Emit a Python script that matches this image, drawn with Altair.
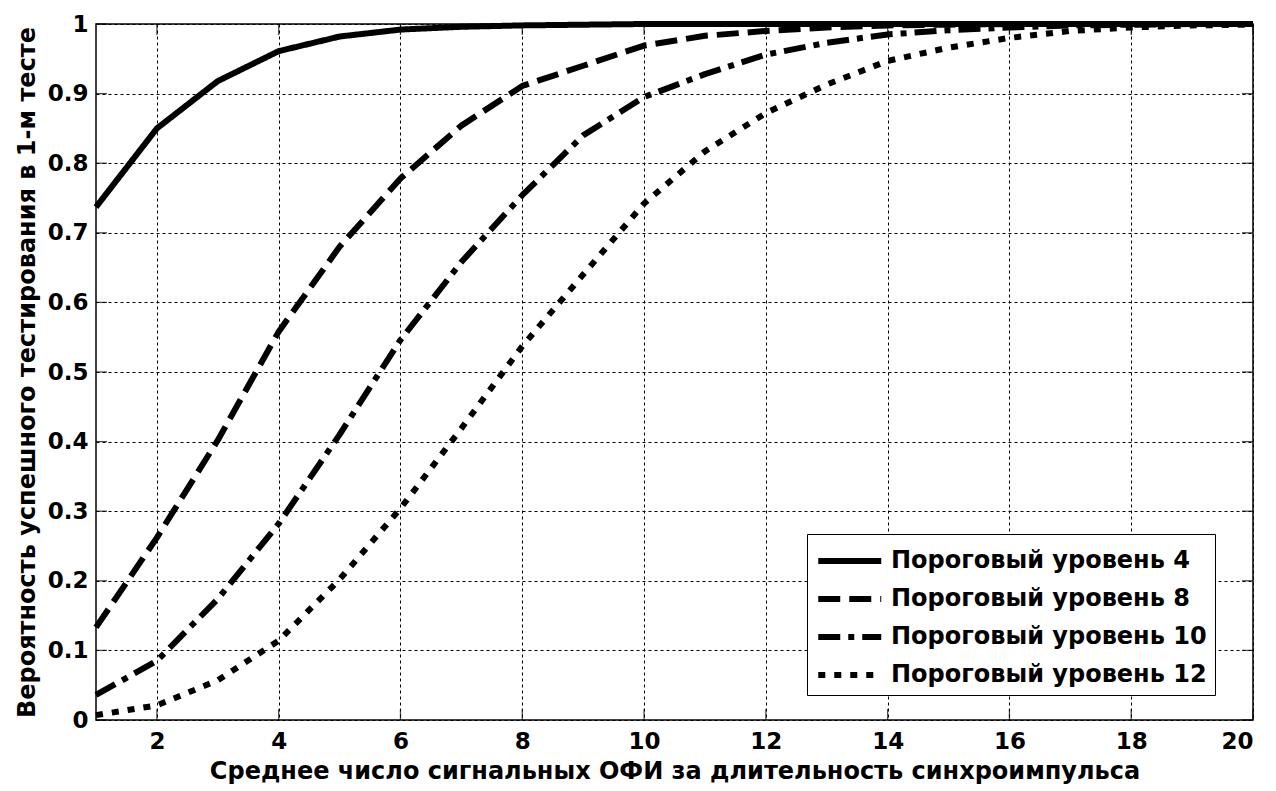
import altair as alt
import pandas as pd

x_vals = list(range(1, 21))
p4 = [0.737, 0.850, 0.918, 0.961, 0.982, 0.992, 0.996, 0.998, 0.999, 1.0,
      1.0, 1.0, 1.0, 1.0, 1.0, 1.0, 1.0, 1.0, 1.0, 1.0]
p8 = [0.133, 0.262, 0.402, 0.558, 0.680, 0.778, 0.854, 0.911, 0.940, 0.969,
      0.983, 0.990, 0.995, 0.998, 0.999, 1.0, 1.0, 1.0, 1.0, 1.0]
p10 = [0.036, 0.085, 0.174, 0.282, 0.410, 0.546, 0.658, 0.754, 0.840, 0.895,
       0.928, 0.956, 0.973, 0.985, 0.991, 0.995, 0.998, 0.999, 1.0, 1.0]
p12 = [0.007, 0.021, 0.057, 0.114, 0.202, 0.304, 0.419, 0.537, 0.640, 0.742,
       0.817, 0.872, 0.913, 0.947, 0.966, 0.980, 0.990, 0.995, 0.998, 0.999]
series_names = ["Пороговый уровень 4", "Пороговый уровень 8",
                "Пороговый уровень 10", "Пороговый уровень 12"]
x_ticks = list(range(2, 21, 2))
y_ticks = [i / 10 for i in range(11)]
x_min, x_max = 1, 20
y_min, y_max = 0, 1

rows = []
for name, vals in zip(series_names, [p4, p8, p10, p12]):
    for xv, yv in zip(x_vals, vals):
        rows.append({"x": xv, "y": yv, "s": name})
df = pd.DataFrame(rows)

xt_df = pd.DataFrame({"x": x_ticks})
yt_df = pd.DataFrame({"y": y_ticks})

FONT = "DejaVu Sans"

x_scale = alt.Scale(domain=[x_min, x_max], nice=False, zero=False)
y_scale = alt.Scale(domain=[y_min, y_max], nice=False, zero=False)

lines = alt.Chart(df).mark_line(
    strokeWidth=6, color="black", strokeCap="butt", strokeJoin="round"
).encode(
    x=alt.X("x:Q", scale=x_scale,
            axis=alt.Axis(values=x_ticks, format="d",
                          title="Среднее число сигнальных ОФИ за длительность синхроимпульса",
                          labelPadding=10, titlePadding=6)),
    y=alt.Y("y:Q", scale=y_scale,
            axis=alt.Axis(values=y_ticks, format=".1~f",
                          title="Вероятность успешного тестирования в 1-м тесте",
                          labelPadding=8, titlePadding=8)),
    strokeDash=alt.StrokeDash(
        "s:N",
        sort=series_names,
        scale=alt.Scale(domain=series_names,
                        range=[[1, 0], [22, 9], [22, 8, 6, 8], [7, 9]]),
        legend=alt.Legend(
            title=None, orient="none", legendX=711, legendY=510,
            symbolType="M-1,0H3", symbolStrokeWidth=6, symbolSize=992,
            symbolStrokeColor="black", symbolFillColor="transparent",
            labelFont=FONT, labelFontSize=24, labelFontWeight="bold",
            labelColor="black", labelOffset=38, labelLimit=0,
            strokeColor="black", fillColor="white", padding=8,
            rowPadding=7, cornerRadius=0,
        ),
    ),
)

TL = 11
tick_bottom = alt.Chart(xt_df).mark_tick(
    orient="vertical", size=TL, thickness=1.3, color="black", yOffset=-TL / 2
).encode(x=alt.X("x:Q", scale=x_scale), y=alt.datum(y_min))
tick_top = alt.Chart(xt_df).mark_tick(
    orient="vertical", size=TL, thickness=1.3, color="black", yOffset=TL / 2
).encode(x=alt.X("x:Q", scale=x_scale), y=alt.datum(y_max))
tick_left = alt.Chart(yt_df).mark_tick(
    orient="horizontal", size=TL, thickness=1.3, color="black", xOffset=TL / 2
).encode(y=alt.Y("y:Q", scale=y_scale), x=alt.datum(x_min))
tick_right = alt.Chart(yt_df).mark_tick(
    orient="horizontal", size=TL, thickness=1.3, color="black", xOffset=-TL / 2
).encode(y=alt.Y("y:Q", scale=y_scale), x=alt.datum(x_max))

chart = alt.layer(
    tick_bottom, tick_top, tick_left, tick_right, lines
).properties(
    width=1157, height=696,
    autosize=alt.AutoSizeParams(type="none"),
    padding={"left": 88, "top": 16, "right": 15, "bottom": 70},
).configure_view(
    stroke="black", strokeWidth=1.5
).configure_axis(
    domain=False, ticks=False,
    grid=True, gridColor="black", gridDash=[3, 3], gridWidth=1, gridOpacity=1,
    labelFont=FONT, labelFontSize=23, labelFontWeight="bold", labelColor="black",
    titleFont=FONT, titleFontSize=24, titleFontWeight="bold", titleColor="black",
)

chart.save("out.html", embed_options={"renderer": "svg", "actions": False})
